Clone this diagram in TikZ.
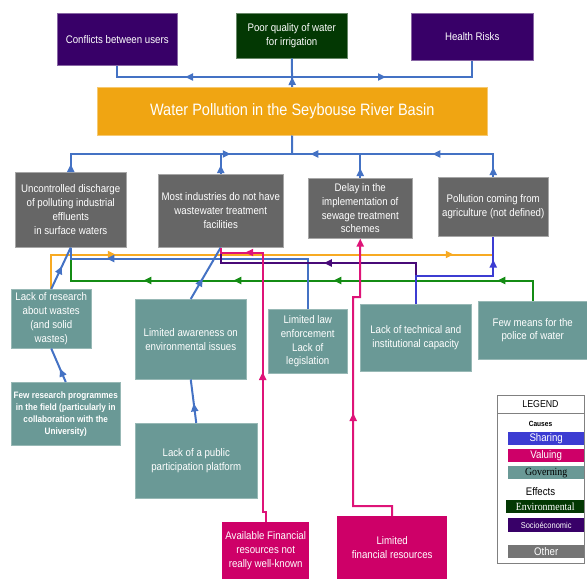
\documentclass[tikz,border=0pt]{standalone}
\usepackage{fontspec}
\setmainfont{Liberation Sans}[FakeStretch=0.88]
\newfontfamily\legserif{Liberation Serif}[FakeStretch=0.9]
\usetikzlibrary{arrows.meta,decorations.markings,calc}

\definecolor{boxgray}{RGB}{102,102,102}
\definecolor{govteal}{RGB}{106,153,150}
\definecolor{titleorange}{RGB}{240,165,18}
\definecolor{socpurple}{RGB}{56,0,104}
\definecolor{envgreen}{RGB}{3,56,3}
\definecolor{valpink}{RGB}{206,0,104}
\definecolor{sharblue}{RGB}{60,60,210}
\definecolor{linkblue}{RGB}{68,114,196}
\definecolor{linkorange}{RGB}{247,170,35}
\definecolor{linkgreen}{RGB}{20,140,20}
\definecolor{linkpurple}{RGB}{72,10,120}
\definecolor{linkpink}{RGB}{222,20,120}

\tikzset{
  wh/.style 2 args={minimum width=#1pt, minimum height=#2pt},
  card/.style={rectangle, anchor=north west, inner sep=0pt, align=center,
    text=white, font=\fontsize{11}{13.8}\selectfont},
  other/.style={card, fill=boxgray, draw=gray!70, line width=0.5pt},
  gov/.style={card, fill=govteal, draw=govteal!70!white, line width=0.5pt},
  val/.style={card, fill=valpink},
  soc/.style={card, fill=socpurple, draw=socpurple!60!white, line width=0.5pt},
  env/.style={card, fill=envgreen, draw=envgreen!60!white, line width=0.5pt},
  headline/.style={card, fill=titleorange, draw=titleorange!60!white, line width=0.5pt,
    font=\fontsize{16.5}{19}\selectfont},
  link/.style={line width=2pt},
  am/.style={postaction={decorate, decoration={markings,
    mark=at position #1 with {\arrow{Triangle[length=8pt,width=7pt]}}}}},
  legbar/.style={rectangle, anchor=north west, inner sep=0pt,
    minimum width=76pt, minimum height=13pt, text=white,
    font=\fontsize{11}{12}\selectfont},
}

\begin{document}
\begin{tikzpicture}[x=1pt,y=-1pt]
\useasboundingbox (0,0) rectangle (587,579);

% ---- effects ----
\node[soc, wh={120}{52}] (conf) at (57,13) {Conflicts between users};
\node[env, wh={111}{45}] (poor) at (236,13) {Poor quality of water\\for irrigation};
\node[soc, wh={122}{47}] (health) at (411,13) {Health Risks};

% ---- central problem ----
\node[headline, wh={390}{48}] (water) at (97,87) {Water Pollution in the Seybouse River Basin};

% ---- direct causes ----
\node[other, wh={111}{75}] (unc) at (15,172) {Uncontrolled discharge\\of polluting industrial\\effluents\\in surface waters};
\node[other, wh={125}{73}] (ind) at (158,174) {Most industries do not have\\wastewater treatment\\facilities};
\node[other, wh={104}{60}] (delay) at (308,178) {Delay in the\\implementation of\\sewage treatment\\schemes};
\node[other, wh={110}{59}] (poll) at (438,177) {Pollution coming from\\agriculture (not defined)};

% ---- underlying causes ----
\node[gov, wh={80}{59}] (res) at (11,289) {Lack of research\\about wastes\\(and solid\\wastes)};
\node[gov, wh={109}{63}, font=\fontsize{9.3}{12}\selectfont\bfseries] (few) at (11,382)
  {Few research programmes\\in the field (particularly in\\collaboration with the\\University)};
\node[gov, wh={111}{80}] (aware) at (135,299) {Limited awareness on\\environmental issues};
\node[gov, wh={122}{75}] (pub) at (135,423) {Lack of a public\\participation platform};
\node[gov, wh={79}{64}] (law) at (268,309) {Limited law\\enforcement\\Lack of\\legislation};
\node[gov, wh={111}{67}] (tech) at (360,304) {Lack of technical and\\institutional capacity};
\node[gov, wh={109}{58}] (means) at (478,301) {Few means for the\\police of water};
\node[val, wh={87}{57}] (avail) at (222,522) {Available Financial\\resources not\\really well-known};
\node[val, wh={110}{63}] (limfin) at (337,516) {Limited\\financial resources};

% ---- links from the central problem to its effects ----
\coordinate (topbus) at (292,77);
\coordinate (botbus) at (292,154);
\draw[link, linkblue, am=10pt] (water.north) -- (poor.south);
\draw[link, linkblue, am=107pt] (topbus) -| (conf.south);
\draw[link, linkblue, am=94pt] (topbus) -| (health.south);

% ---- links from direct causes to the central problem ----
\draw[link, linkblue, am=8pt, am=178pt] (unc.north) |- (botbus);
\draw[link, linkblue, am=9pt] (ind.north) |- (botbus);
\draw[link, linkblue, am=10pt, am=74pt] (delay.north) |- (botbus);
\draw[link, linkblue, am=10pt, am=84pt] (poll.north) |- (botbus);
\draw[link, linkblue] (botbus) -- (water.south);

% ---- links between causes ----
\draw[link, linkgreen, am=56pt, am=220pt, am=320pt, am=410pt]
  (means.north) |- ($(unc.south)+(0,33)$) -- (unc.south);
\draw[link, linkorange, am=99pt, am=437pt]
  (res.north) |- ($(poll.south)+(0,18)$);
\draw[link, linkblue, am=252pt]
  (law.north) |- ($(unc.south)+(0,11)$) -- (unc.south);
\draw[link, linkpurple, am=133pt]
  (tech.north) -- ++(0,-41) -| (ind.south);
\draw[link, sharblue, am=122pt]
  (tech.north) -- ++(0,-28) -| (poll.south);
\draw[link, linkblue, am=0.55] (res.north) -- (unc.south);
\draw[link, linkblue, am=0.4] (aware.north) -- (ind.south);
\draw[link, linkblue, am=0.45] (pub.north) -- (aware.south);
\draw[link, linkblue, am=0.4] (few.north) -- (res.south);
\draw[link, linkpink, am=153pt, am=290pt]
  (avail.north) -- ++(0,-10) -- ++(-3,0) |- ($(ind.south)+(0,5)$) -- (ind.south);
\draw[link, linkpink, am=142pt, -{Triangle[length=8pt,width=7pt]}]
  (limfin.north) -- ++(0,-10) -- ++(-39,0) -- ++(0,-209) -- ++(7,0) -- (delay.south);

% ---- legend ----
\node[rectangle, anchor=north west, draw=gray, line width=0.8pt, fill=white,
  minimum width=87pt, minimum height=168pt, inner sep=0pt] (legend) at (497,395) {};
\draw[gray, line width=0.8pt] (497,413) -- (584,413);
\node[font=\fontsize{10}{12}\selectfont] (legtitle) at (540.5,404) {LEGEND};
\node[font=\fontsize{7.5}{9}\selectfont\bfseries] (legcauses) at (540.5,423.5) {Causes};
\node[legbar, fill=sharblue] (lsh) at (508,432) {Sharing};
\node[legbar, fill=valpink] (lval) at (508,449) {Valuing};
\node[legbar, fill=govteal, text=black, font=\legserif\fontsize{11}{12}\selectfont] (lgov) at (508,466) {Governing};
\node[font=\fontsize{11}{12}\selectfont] (legeff) at (540.5,492) {Effects};
\node[legbar, fill=envgreen, minimum width=78pt, font=\legserif\fontsize{11}{12}\selectfont] (lenv) at (506,500) {Environmental};
\node[legbar, fill=socpurple, minimum height=14pt, font=\fontsize{8.5}{10}\selectfont] (lsoc) at (508,518) {Socioéconomic};
\node[legbar, fill=boxgray!90!white] (loth) at (508,545) {Other};
\end{tikzpicture}
\end{document}
